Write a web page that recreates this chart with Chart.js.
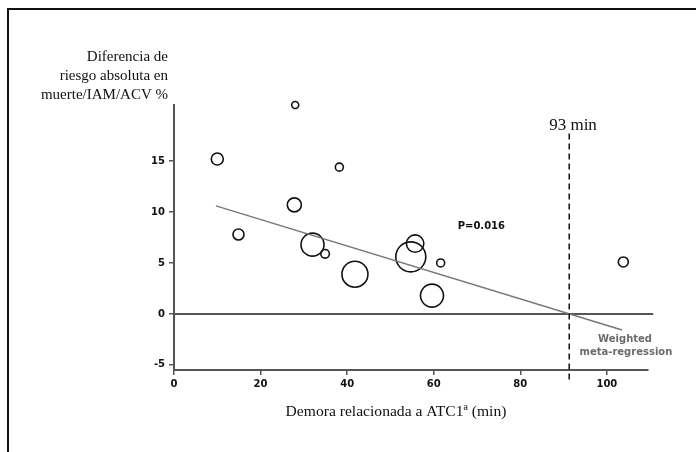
<!DOCTYPE html>
<html>
<head>
<meta charset="utf-8">
<script src="https://cdn.jsdelivr.net/npm/chart.js@4.4.0/dist/chart.umd.min.js"></script>
<style>
  html, body { margin: 0; padding: 0; background: #fff; }
  #wrap { width: 696px; height: 452px; }
</style>
</head>
<body>
<div id="wrap"><canvas id="grafico"></canvas></div>
<script>
// demora (min) vs diferencia de riesgo absoluta (%), tamaño = peso del estudio
const demoras = [10.0, 28.0, 38.2, 27.8, 14.9, 32.0, 34.9, 41.8, 55.7, 54.7, 61.6, 59.6, 103.8];
const diferencias = [15.2, 20.5, 14.4, 10.7, 7.8, 6.8, 5.9, 3.9, 6.9, 5.6, 5.0, 1.8, 5.1];
const pesos = [6, 3.5, 4, 7, 5.5, 11.5, 4.3, 13, 8.7, 15, 4, 11.5, 5];

// recta de meta-regresión ponderada
const regresionX = [9.7, 103.5];
const regresionY = [10.6, -1.57];

// corte en 93 min
const corteX = 91.3;
const corteY = [17.7, -6.5];

const xTicks = [0, 20, 40, 60, 80, 100];
const yTicks = [-5, 0, 5, 10, 15];

const burbujas = demoras.map((d, i) => ({ x: d, y: diferencias[i], r: pesos[i] }));

const textos = {
  id: "textos",
  afterDraw(chart) {
    const { ctx, scales: { x, y } } = chart;
    ctx.save();

    // marco
    ctx.strokeStyle = "#111";
    ctx.lineWidth = 2;
    ctx.beginPath();
    ctx.moveTo(8, chart.height);
    ctx.lineTo(8, 9);
    ctx.lineTo(chart.width, 9);
    ctx.stroke();

    // título eje y
    ctx.fillStyle = "#111";
    ctx.font = "15px 'Liberation Serif'";
    ctx.textAlign = "right";
    ctx.textBaseline = "alphabetic";
    ctx.fillText("Diferencia de", 168, 61);
    ctx.fillText("riesgo absoluta en", 168, 80);
    ctx.fillText("muerte/IAM/ACV %", 168, 99);

    // título eje x
    ctx.textAlign = "center";
    ctx.font = "15.6px 'Liberation Serif'";
    ctx.fillText("Demora relacionada a ATC1ª (min)", 396, 416);

    // 93 min
    ctx.font = "17px 'Liberation Serif'";
    ctx.fillText("93 min", 573, 129.5);

    // P
    ctx.textBaseline = "middle";
    ctx.font = "bold 10px 'DejaVu Sans'";
    ctx.fillText("P=0.016", x.getPixelForValue(71), y.getPixelForValue(8.55));

    ctx.fillStyle = "#6b6b6b";
    ctx.fillText("Weighted", x.getPixelForValue(104.2), y.getPixelForValue(-2.5));
    ctx.fillText("meta-regression", x.getPixelForValue(104.4), y.getPixelForValue(-3.75));

    ctx.restore();
  }
};

new Chart(document.getElementById("grafico"), {
  type: "bubble",
  data: {
    datasets: [
      {
        type: "line",
        data: [{ x: 0, y: 0 }, { x: 110.7, y: 0 }],
        borderColor: "#555",
        borderWidth: 2,
        pointRadius: 0,
        clip: false,
        order: 3
      },
      {
        data: burbujas,
        backgroundColor: "rgba(0,0,0,0)",
        borderColor: "#111",
        borderWidth: 1.6,
        clip: false,
        order: 2
      },
      {
        type: "line",
        data: regresionX.map((v, i) => ({ x: v, y: regresionY[i] })),
        borderColor: "#777",
        borderWidth: 1.5,
        pointRadius: 0,
        order: 1
      },
      {
        type: "line",
        data: corteY.map(v => ({ x: corteX, y: v })),
        borderColor: "#111",
        borderWidth: 1.5,
        borderDash: [6, 4],
        pointRadius: 0,
        clip: false,
        order: 0
      }
    ]
  },
  options: {
    responsive: true,
    maintainAspectRatio: false,
    animation: false,
    layout: { padding: { top: 105, right: 48, left: 0, bottom: 0 } },
    plugins: {
      legend: { display: false },
      tooltip: { enabled: false }
    },
    scales: {
      x: {
        type: "linear",
        min: 0,
        max: 109.5,
        afterFit: s => { s.height = 82; },
        afterBuildTicks: s => { s.ticks = xTicks.map(v => ({ value: v })); },
        border: { display: true, color: "#555", width: 2 },
        grid: { drawOnChartArea: false, drawTicks: true, tickLength: 5, color: "#555", lineWidth: 1.5 },
        ticks: { color: "#111", padding: 3, font: { family: "DejaVu Sans", weight: "bold", size: 10 } }
      },
      y: {
        min: -5.5,
        max: 20.5,
        afterFit: s => { s.width = 174; },
        afterBuildTicks: s => { s.ticks = yTicks.map(v => ({ value: v })); },
        border: { display: true, color: "#555", width: 2 },
        grid: { drawOnChartArea: false, drawTicks: true, tickLength: 5, color: "#555", lineWidth: 1.5 },
        ticks: { color: "#111", padding: 4, font: { family: "DejaVu Sans", weight: "bold", size: 10 } }
      }
    }
  },
  plugins: [textos]
});
</script>
</body>
</html>
